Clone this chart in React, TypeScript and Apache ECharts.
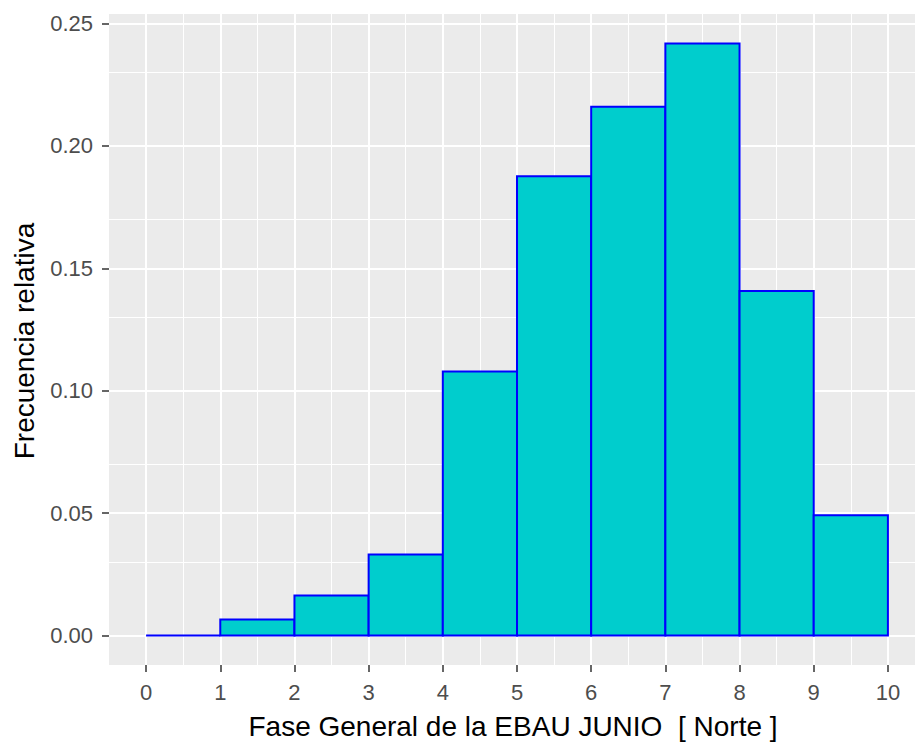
import React, { useEffect, useRef } from "react";
import * as echarts from "echarts";

const binStart = [0, 1, 2, 3, 4, 5, 6, 7, 8, 9];
const binEnd = [1, 2, 3, 4, 5, 6, 7, 8, 9, 10];
const freq = [0, 0.0065, 0.0163, 0.0331, 0.1078, 0.1876, 0.216, 0.2418, 0.1407, 0.0491];

const xTicks = [0, 1, 2, 3, 4, 5, 6, 7, 8, 9, 10];
const xMinor = [0.5, 1.5, 2.5, 3.5, 4.5, 5.5, 6.5, 7.5, 8.5, 9.5];
const yTicks = [0, 0.05, 0.1, 0.15, 0.2, 0.25];
const yMinor = [0.025, 0.075, 0.125, 0.175, 0.225];

const xTitle = "Fase General de la EBAU JUNIO  [ Norte ]";
const yTitle = "Frecuencia relativa";

const FONT = "'Liberation Sans', Arial, sans-serif";

export default function App() {
  const ref = useRef<HTMLDivElement>(null);
  useEffect(() => {
    if (!ref.current) return;
    const chart = echarts.init(ref.current, undefined, { renderer: "svg" });
    const yMax = Math.max(...freq);
    const pad = yMax * 0.05;
    const gridData = [
      ...xMinor.map((v) => ({ xAxis: v, lineStyle: { width: 1 } })),
      ...yMinor.map((v) => ({ yAxis: v, lineStyle: { width: 1 } })),
      ...xTicks.map((v) => ({ xAxis: v, lineStyle: { width: 2 } })),
      ...yTicks.map((v) => ({ yAxis: v, lineStyle: { width: 2 } })),
    ];
    chart.setOption({
      animation: false,
      textStyle: { fontFamily: FONT },
      grid: {
        left: 109,
        top: 14,
        width: 816,
        height: 651,
        show: true,
        backgroundColor: "#EBEBEB",
        borderWidth: 0,
      },
      xAxis: {
        type: "value",
        min: -0.5,
        max: 10.5,
        axisLine: { show: false, onZero: false },
        splitLine: { show: false },
        axisTick: {
          show: true,
          length: 7,
          customValues: xTicks,
          lineStyle: { color: "#333333", width: 1.5 },
        },
        axisLabel: {
          customValues: xTicks,
          color: "#4D4D4D",
          fontSize: 22,
          fontFamily: FONT,
          margin: 16,
          formatter: (v: number) => String(v),
        },
      },
      yAxis: {
        type: "value",
        min: -pad,
        max: yMax + pad,
        axisLine: { show: false, onZero: false },
        splitLine: { show: false },
        axisTick: {
          show: true,
          length: 7,
          customValues: yTicks,
          lineStyle: { color: "#333333", width: 1.5 },
        },
        axisLabel: {
          customValues: yTicks,
          color: "#4D4D4D",
          fontSize: 22,
          fontFamily: FONT,
          margin: 16,
          formatter: (v: number) => v.toFixed(2),
        },
      },
      graphic: [
        {
          type: "text",
          x: 513,
          y: 726,
          style: {
            text: xTitle,
            fill: "#000000",
            fontSize: 28,
            fontFamily: FONT,
            align: "center",
            verticalAlign: "middle",
          },
        },
        {
          type: "text",
          x: 24,
          y: 341,
          rotation: Math.PI / 2,
          style: {
            text: yTitle,
            fill: "#000000",
            fontSize: 28,
            fontFamily: FONT,
            align: "center",
            verticalAlign: "middle",
          },
        },
      ],
      series: [
        {
          type: "line",
          data: [],
          z: 1,
          silent: true,
          markLine: {
            z: 1,
            silent: true,
            symbol: "none",
            animation: false,
            label: { show: false },
            lineStyle: { color: "#FFFFFF", type: "solid" },
            emphasis: { disabled: true },
            data: gridData,
          },
        },
        {
          type: "custom",
          z: 5,
          silent: true,
          data: binStart.map((s, i) => [s, binEnd[i], freq[i]]),
          renderItem: (params: any, api: any) => {
            const x0 = api.value(0);
            const x1 = api.value(1);
            const y = api.value(2);
            const p0 = api.coord([x0, 0]);
            const p1 = api.coord([x1, y]);
            return {
              type: "polygon",
              shape: {
                points: [
                  [p0[0], p0[1]],
                  [p1[0], p0[1]],
                  [p1[0], p1[1]],
                  [p0[0], p1[1]],
                ],
              },
              style: { fill: "#00CDCD", stroke: "#0000FF", lineWidth: 2 },
            };
          },
        },
      ],
    });
    return () => chart.dispose();
  }, []);
  return (
    <div
      style={{
        position: "fixed",
        left: 0,
        top: 0,
        width: 915,
        height: 743,
        overflow: "hidden",
        background: "#FFFFFF",
      }}
    >
      <div ref={ref} style={{ width: 935, height: 743 }} />
    </div>
  );
}
